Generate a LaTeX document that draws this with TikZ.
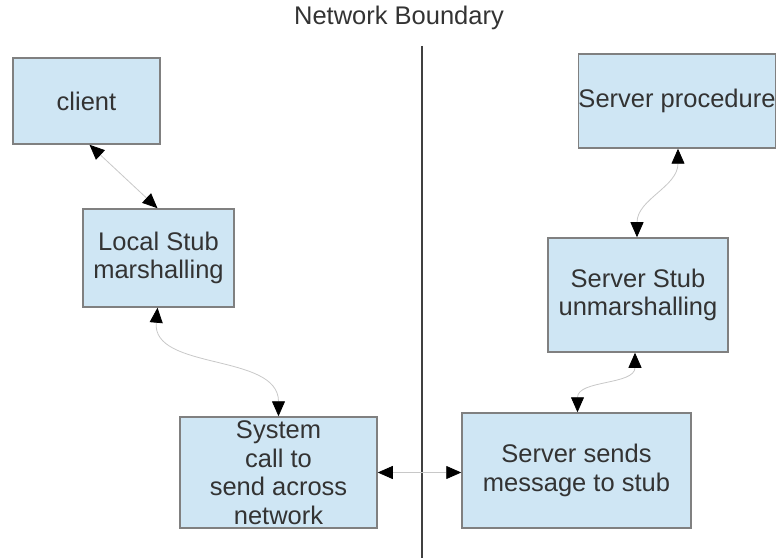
\documentclass[tikz,border=0pt]{standalone}
\usepackage{fontspec}
\setmainfont{Liberation Sans}
\usetikzlibrary{arrows.meta}
\definecolor{boxfill}{HTML}{CFE6F4}
\definecolor{boxline}{HTML}{808080}
\definecolor{txt}{HTML}{333333}
\definecolor{conn}{HTML}{C8C8C8}
\begin{document}
\begin{tikzpicture}[x=1pt,y=1pt,
  box/.style={draw=boxline,fill=boxfill,line width=1.5pt,text=txt,align=center,inner sep=0pt,
    font=\fontsize{25.5}{28.5}\selectfont},
  link/.style={draw=conn,line width=0.8pt,
    {Triangle[length=15pt,width=13pt,black]}-{Triangle[length=15pt,width=13pt,black]}}]
\useasboundingbox (0,0) rectangle (780,558);
\node[box,minimum width=147,minimum height=86] (client) at (86.5,457) {\raisebox{-2pt}{client}};
\node[box,minimum width=151,minimum height=98] (local) at (158.5,300) {Local Stub\\marshalling};
\node[box,minimum width=197,minimum height=111] (sys) at (278.5,85.5) {System\\call to\\send across\\network};
\node[box,minimum width=229,minimum height=115] (send) at (576.5,87.5) {Server sends\\message to stub};
\node[box,minimum width=180,minimum height=114] (sstub) at (638,263) {Server Stub\\unmarshalling};
\node[box,minimum width=192,minimum height=94] (sproc) at (677,457) {Server procedure};
\node[text=txt,font=\fontsize{25.5}{28}\selectfont] (title) at (399,540) {Network Boundary};
\coordinate (btop) at (422,512);
\coordinate (bbot) at (422,0);
\draw[line width=1.5pt,draw=black!75] (btop) -- (bbot);
\draw[link] ([xshift=3pt]client.south) -- ([xshift=-1pt]local.north);
\draw[link] ([xshift=-1pt]local.south) to[out=-95,in=90] (sys.north);
\draw[link] (sys.east) -- (sys.east -| send.west);
\draw[link] ([xshift=1pt]send.north) to[out=90,in=-90] ([xshift=-3pt]sstub.north |- sstub.south);
\draw[link] ([xshift=-1pt]sstub.north) to[out=90,in=-90] ([xshift=1pt]sproc.south);
\end{tikzpicture}
\end{document}
